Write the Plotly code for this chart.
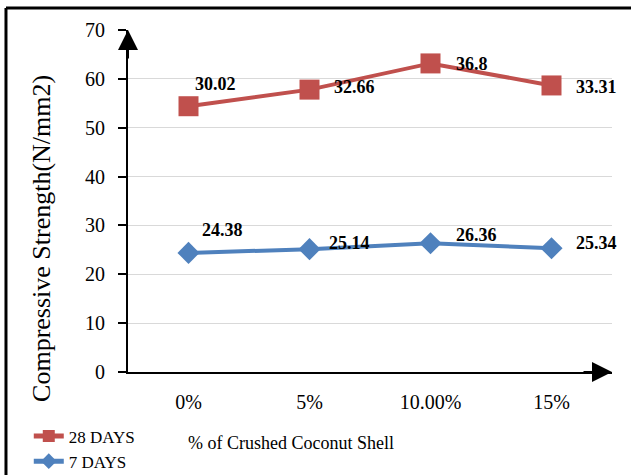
import plotly.graph_objects as go

categories = ["0%", "5%", "10.00%", "15%"]
days7 = [24.38, 25.14, 26.36, 25.34]
days28 = [30.02, 32.66, 36.8, 33.31]
y_ticks = [0, 10, 20, 30, 40, 50, 60, 70]

# 28-day series is stacked on top of the 7-day series (as in the source chart)
days28_stacked = [a + b for a, b in zip(days7, days28)]

RED = "#C0504D"
BLUE = "#4F81BD"
FONT = "Liberation Serif"

fig = go.Figure()
fig.add_trace(go.Scatter(
    x=categories, y=days7, name="7 DAYS", mode="lines+markers",
    line=dict(color=BLUE, width=4),
    marker=dict(symbol="diamond", size=17, color=BLUE),
))
fig.add_trace(go.Scatter(
    x=categories, y=days28_stacked, name="28 DAYS", mode="lines+markers",
    line=dict(color=RED, width=4),
    marker=dict(symbol="square", size=20, color=RED),
))

# data label offsets (pixels): style only
off28 = [(4, 22), (22, 3), (23, -1), (22, -2)]
off7 = [(11, 23), (17, 6), (23, 8), (22, 5)]

LABEL_FONT = dict(family=FONT, size=18, color="black", weight="bold")
annotations = []
for cat, yv, lab, (dx, dy) in zip(categories, days28_stacked, days28, off28):
    annotations.append(dict(x=cat, y=yv, xref="x", yref="y", text=f"{lab:g}",
                            showarrow=False, xanchor="left", yanchor="middle",
                            xshift=dx, yshift=dy, font=LABEL_FONT))
for cat, yv, lab, (dx, dy) in zip(categories, days7, days7, off7):
    annotations.append(dict(x=cat, y=yv, xref="x", yref="y", text=f"{lab:g}",
                            showarrow=False, xanchor="left", yanchor="middle",
                            xshift=dx, yshift=dy, font=LABEL_FONT))

# axis arrows
annotations.append(dict(xref="paper", yref="paper", x=0, y=1, ax=0, ay=30,
                        showarrow=True, arrowhead=2, arrowsize=2, arrowwidth=2,
                        arrowcolor="black", text=""))
annotations.append(dict(xref="paper", yref="paper", x=1, y=0, ax=-30, ay=0,
                        showarrow=True, arrowhead=2, arrowsize=2, arrowwidth=2,
                        arrowcolor="black", text=""))

# axis titles
annotations.append(dict(xref="paper", yref="paper", x=-0.1777, y=0.392,
                        text="Compressive Strength(N/mm2)", textangle=-90,
                        showarrow=False, xanchor="center", yanchor="middle",
                        font=dict(family=FONT, size=26, color="black")))
annotations.append(dict(xref="paper", yref="paper", x=0.337, y=-0.2076,
                        text="% of Crushed Coconut Shell",
                        showarrow=False, xanchor="center", yanchor="middle",
                        font=dict(family=FONT, size=18, color="black")))

shapes = [
    dict(type="line", xref="paper", yref="paper", x0=-0.2521, x1=-0.2521,
         y0=1.0643, y1=-0.31, line=dict(color="black", width=3)),
    dict(type="line", xref="paper", yref="paper", x0=-0.2521, x1=1.05,
         y0=1.0643, y1=1.0643, line=dict(color="black", width=3)),
]

fig.update_layout(
    width=631, height=475,
    margin=dict(l=128, r=19, t=30, b=103, autoexpand=False),
    paper_bgcolor="white", plot_bgcolor="white",
    font=dict(family=FONT, size=20, color="black"),
    showlegend=True,
    legend=dict(x=-0.205, y=-0.136, xanchor="left", yanchor="top",
                traceorder="reversed", itemsizing="constant",
                font=dict(family=FONT, size=17, color="black"),
                bgcolor="rgba(0,0,0,0)"),
    annotations=annotations,
    shapes=shapes,
)
fig.update_xaxes(
    type="category", categoryorder="array", categoryarray=categories,
    range=[-0.5, 3.5], showgrid=False, zeroline=False,
    showline=True, linecolor="black", linewidth=2,
    ticks="outside", ticklen=11, tickcolor="rgba(0,0,0,0)",
    tickfont=dict(family=FONT, size=20, color="black"),
)
fig.update_yaxes(
    range=[0, 70], tickvals=y_ticks, showgrid=True, gridcolor="#D9D9D9", gridwidth=1,
    zeroline=False, showline=True, linecolor="black", linewidth=2,
    ticks="outside", ticklen=8, tickwidth=1.5, tickcolor="black",
    ticklabelstandoff=9,
    tickfont=dict(family=FONT, size=20, color="black"),
)

fig.write_html("out.html", config={"displayModeBar": False},
               post_script="document.body.style.margin='0';")
